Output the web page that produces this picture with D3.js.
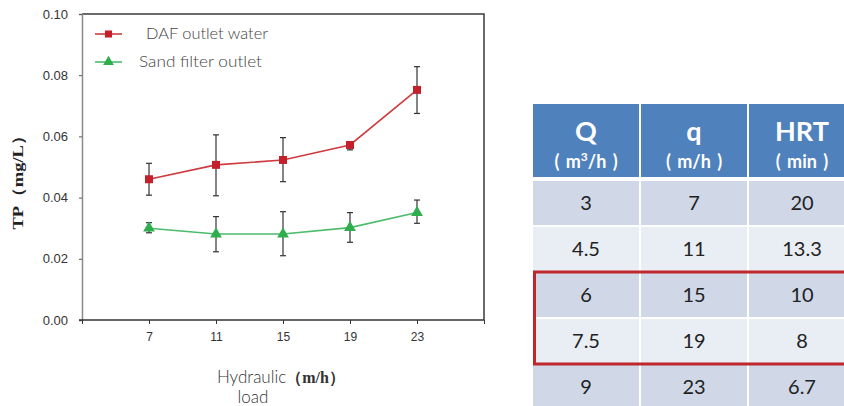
<!DOCTYPE html>
<html>
<head>
<meta charset="utf-8">
<script src="https://cdn.jsdelivr.net/npm/d3@7"></script>
<style>
html,body{margin:0;padding:0;background:#fff;}
svg{display:block;}
</style>
</head>
<body>
<svg id="chart" width="844" height="406"></svg>
<script>
// ---- chart data ----
const loads = [7, 11, 15, 19, 23];
const dafMean = [0.0460, 0.0507, 0.0523, 0.0572, 0.0752];
const dafLow  = [0.0408, 0.0406, 0.0452, 0.0556, 0.0675];
const dafHigh = [0.0512, 0.0605, 0.0596, 0.0583, 0.0828];
const sandMean = [0.0300, 0.0281, 0.0281, 0.0302, 0.0351];
const sandLow  = [0.0285, 0.0223, 0.0210, 0.0254, 0.0316];
const sandHigh = [0.0318, 0.0338, 0.0354, 0.0351, 0.0392];
const yTicks = [0, 0.02, 0.04, 0.06, 0.08, 0.10];
const xTicks = [3, 7, 11, 15, 19, 23, 27];
const seriesNames = ["DAF outlet water", "Sand filter outlet"];

// ---- table data ----
const tableHeads = ["Q", "q", "HRT"];
const tableUnits = [["( m", "3", "/h )"], ["( m/h )"], ["( min )"]];
const colQ = ["3", "4.5", "6", "7.5", "9"];
const colq = ["7", "11", "15", "19", "23"];
const colHRT = ["20", "13.3", "10", "8", "6.7"];
const highlightRows = [2, 3];

const svg = d3.select("#chart");
const x = d3.scaleLinear().domain([3, 27]).range([82, 484]);
const y = d3.scaleLinear().domain([0, 0.1]).range([320, 14]);

const red = "#c3202b", redLine = "#cf3a3f", green = "#2fae4e", greenLine = "#4cbb6a";

// frame: top and right
svg.append("path")
  .attr("d", `M${x(3)},${y(0.1)}H${x(27)}V${y(0)}`)
  .attr("fill", "none").attr("stroke", "#3a3a3a").attr("stroke-width", 1.5);

// y axis
const yAxis = svg.append("g").attr("transform", `translate(${x(3)},0)`)
  .call(d3.axisLeft(y).tickValues(yTicks).tickFormat(d3.format(".2f")).tickSize(3).tickPadding(11));
yAxis.select(".domain").attr("stroke", "#8a8a8a").attr("stroke-width", 1.5);
yAxis.selectAll(".tick line").attr("stroke", "#555");
yAxis.selectAll("text").attr("font-family", "Liberation Sans, Arial, sans-serif")
  .attr("font-size", 13).attr("fill", "#333");

// x axis
const xAxis = svg.append("g").attr("transform", `translate(0,${y(0)})`)
  .call(d3.axisBottom(x).tickValues(xTicks)
    .tickFormat(d => loads.includes(d) ? d : "").tickSizeInner(4).tickSizeOuter(0).tickPadding(8));
xAxis.select(".domain").attr("stroke", "#333").attr("stroke-width", 1.6)
  .attr("d", `M${x(3) - 3},0H${x(27)}`);
xAxis.selectAll(".tick line").attr("stroke", "#333");
xAxis.selectAll("text").attr("font-family", "Liberation Sans, Arial, sans-serif")
  .attr("font-size", 12).attr("fill", "#333");

// series
function drawSeries(mean, low, high, lineColor, markColor, shape) {
  const g = svg.append("g");
  g.append("path")
    .datum(loads.map((l, i) => [l, mean[i]]))
    .attr("d", d3.line().x(d => x(d[0])).y(d => y(d[1])))
    .attr("fill", "none").attr("stroke", lineColor).attr("stroke-width", 1.6);
  loads.forEach((l, i) => {
    const cx = x(l);
    g.append("line").attr("x1", cx).attr("x2", cx).attr("y1", y(low[i])).attr("y2", y(high[i]))
      .attr("stroke", "#333").attr("stroke-width", 1.2);
    [low[i], high[i]].forEach(v => {
      g.append("line").attr("x1", cx - 3).attr("x2", cx + 3).attr("y1", y(v)).attr("y2", y(v))
        .attr("stroke", "#333").attr("stroke-width", 1.2);
    });
  });
  g.selectAll(".m").data(loads).enter().append("path")
    .attr("transform", (l, i) => `translate(${x(l)},${y(mean[i])})`)
    .attr("d", d3.symbol().type(shape).size(shape === d3.symbolSquare ? 64 : 60))
    .attr("fill", markColor);
}
drawSeries(dafMean, dafLow, dafHigh, redLine, red, d3.symbolSquare);
drawSeries(sandMean, sandLow, sandHigh, greenLine, green, d3.symbolTriangle);

// legend
const legend = svg.append("g");
const legY = [34, 62];
const legColors = [[redLine, red, d3.symbolSquare], [greenLine, green, d3.symbolTriangle]];
const legTextX = [146, 139];
seriesNames.forEach((n, i) => {
  legend.append("line").attr("x1", 95).attr("x2", 122).attr("y1", legY[i]).attr("y2", legY[i])
    .attr("stroke", legColors[i][0]).attr("stroke-width", 1.6);
  legend.append("path").attr("transform", `translate(108.5,${legY[i]})`)
    .attr("d", d3.symbol().type(legColors[i][2]).size(50)).attr("fill", legColors[i][1]);
  legend.append("text").attr("x", legTextX[i]).attr("y", legY[i] + 5)
    .attr("font-family", "Lato, sans-serif").attr("font-size", 15).attr("font-weight", 300)
    .attr("fill", "#444").attr("textLength", i === 0 ? 122 : 123).attr("lengthAdjust", "spacingAndGlyphs")
    .text(n);
});

// y title
svg.append("text").attr("transform", "translate(23,178) rotate(-90)")
  .attr("text-anchor", "middle")
  .attr("font-family", "Liberation Serif, Times New Roman, serif").attr("font-weight", "bold")
  .attr("font-size", 15).attr("fill", "#222")
  .attr("textLength", 103).attr("lengthAdjust", "spacingAndGlyphs")
  .text("TP（mg/L）");

// x title
const xt = svg.append("text").attr("x", 217).attr("y", 383)
  .attr("font-family", "Lato, sans-serif").attr("font-size", 17).attr("font-weight", 300).attr("fill", "#333");
xt.append("tspan").text("Hydraulic");
xt.append("tspan").attr("font-family", "Liberation Serif, serif").attr("font-weight", "bold")
  .attr("font-size", 16).text("（m/h）");
svg.append("text").attr("x", 253).attr("y", 403).attr("text-anchor", "middle")
  .attr("font-family", "Lato, sans-serif").attr("font-size", 17).attr("font-weight", 300).attr("fill", "#333")
  .text("load");

// ---- table ----
const colX = d3.scaleBand().domain(d3.range(3)).range([533, 857]).paddingInner(0);
const headTop = 104, headBot = 177;
const rowStarts = d3.scaleLinear().domain([0, 5]).range([181, 411]);
const tbl = svg.append("g");
const cols = [colQ, colq, colHRT];
const fontT = "Lato, 'Open Sans', sans-serif";

d3.range(3).forEach(c => {
  tbl.append("rect").attr("x", colX(c)).attr("y", headTop).attr("width", colX.bandwidth() - 2)
    .attr("height", headBot - headTop).attr("fill", "#4f81bd");
  tbl.append("text").attr("x", colX(c) + colX.bandwidth() / 2 - 1).attr("y", 141)
    .attr("text-anchor", "middle").attr("font-family", fontT).attr("font-weight", "bold")
    .attr("font-size", 27).attr("fill", "#fff").text(tableHeads[c]);
  const u = tbl.append("text").attr("x", colX(c) + colX.bandwidth() / 2 - 1).attr("y", 168)
    .attr("text-anchor", "middle").attr("font-family", fontT).attr("font-weight", "bold")
    .attr("font-size", 18).attr("fill", "#fff").attr("word-spacing", 2);
  tableUnits[c].forEach((p, k) => {
    const t = u.append("tspan").text(p);
    if (tableUnits[c].length === 3 && k === 1) t.attr("font-size", 12).attr("dy", -7);
    if (tableUnits[c].length === 3 && k === 2) t.attr("dy", 7);
  });
  cols[c].forEach((v, r) => {
    const top = rowStarts(r), h = rowStarts(r + 1) - rowStarts(r) - 2;
    tbl.append("rect").attr("x", colX(c)).attr("y", top).attr("width", colX.bandwidth() - 2)
      .attr("height", h).attr("fill", r % 2 === 0 ? "#d0d8e8" : "#e9edf4");
    tbl.append("text").attr("x", colX(c) + colX.bandwidth() / 2 - 1).attr("y", top + h / 2 + 7)
      .attr("text-anchor", "middle").attr("font-family", fontT).attr("font-size", 20)
      .attr("fill", "#222").text(v);
  });
});
// highlight box
const hb0 = rowStarts(highlightRows[0]) - 1, hb1 = rowStarts(highlightRows[1] + 1) - 1;
tbl.append("rect").attr("x", 534.5).attr("y", hb0).attr("width", 340).attr("height", hb1 - hb0)
  .attr("fill", "none").attr("stroke", "#c0272d").attr("stroke-width", 3);
</script>
</body>
</html>
